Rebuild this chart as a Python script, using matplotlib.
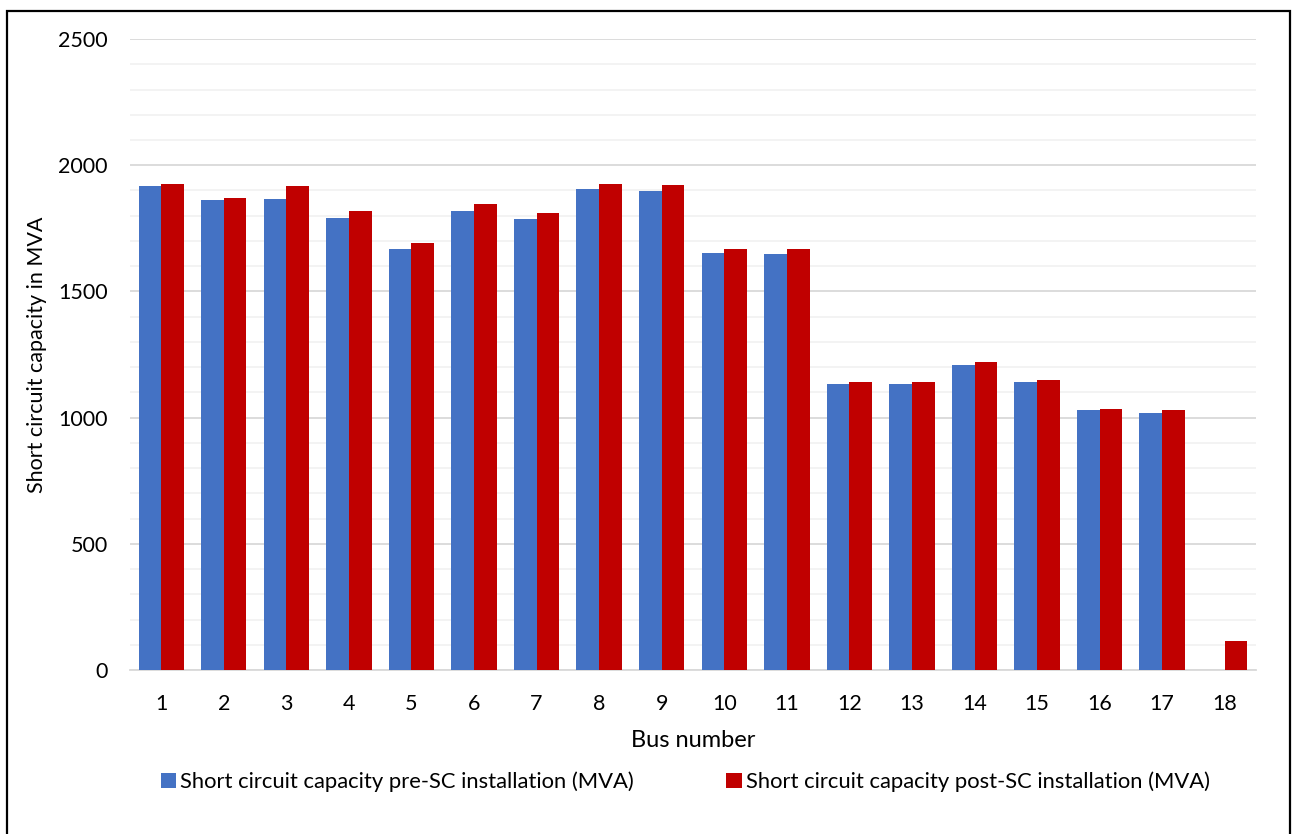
import numpy as np
import matplotlib
matplotlib.use('Agg')
from matplotlib import pyplot as plt
from matplotlib.patches import Rectangle

plt.rcParams['font.family'] = ['Lato', 'DejaVu Sans']

# bus numbers and short circuit capacity (MVA)
buses = [str(i) for i in range(1, 19)]
pre_sc = [1918, 1862, 1867, 1792, 1668, 1820, 1787, 1905, 1899, 1652,
          1650, 1133, 1133, 1208, 1140, 1031, 1019, 0]
post_sc = [1927, 1870, 1916, 1820, 1690, 1845, 1811, 1926, 1920, 1669,
           1668, 1140, 1140, 1219, 1150, 1034, 1031, 116]

pre_label = 'Short circuit capacity pre-SC installation (MVA)'
post_label = 'Short circuit capacity post-SC installation (MVA)'

blue = '#4472C4'
red = '#C00000'

fig = plt.figure(figsize=(12.93, 8.34), dpi=100)
ax = fig.add_axes([0.1005, 0.1966, 0.8709, 0.7566])

x = np.arange(len(buses))
w = 0.363
ax.bar(x - w / 2, pre_sc, w, color=blue, label=pre_label, zorder=3)
ax.bar(x + w / 2, post_sc, w, color=red, label=post_label, zorder=3)

ax.set_xlim(-0.5, len(buses) - 0.5)
ax.set_ylim(0, 2500)
ax.set_yticks(np.arange(0, 2501, 500))
ax.set_yticks(np.arange(0, 2501, 100), minor=True)
ax.grid(axis='y', which='major', color='#D9D9D9', linewidth=1.3, zorder=0)
ax.grid(axis='y', which='minor', color='#F2F2F2', linewidth=1.3, zorder=0)
ax.set_axisbelow(True)

ax.set_xticks(x)
ax.set_xticklabels(buses)
ax.tick_params(axis='both', which='both', length=0, labelsize=15.5, colors='black')
ax.tick_params(axis='x', pad=17)
ax.tick_params(axis='y', pad=16)

for side in ['top', 'right', 'left']:
    ax.spines[side].set_visible(False)
ax.spines['bottom'].set_color('#D9D9D9')
ax.spines['bottom'].set_linewidth(1.3)

ax.set_xlabel('Bus number', fontsize=17)
ax.set_ylabel('Short circuit capacity in MVA', fontsize=15.5)
ax.xaxis.set_label_coords(0.5, -0.111)
ax.yaxis.set_label_coords(-0.0826, 0.5)
ax.xaxis.label.set_va('center')
ax.yaxis.label.set_va('center')

fig.legend(loc='center', bbox_to_anchor=(0.530, 0.0625), ncol=2, frameon=False,
           fontsize=15.8, handlelength=0.7, handleheight=0.7, handletextpad=0.2,
           columnspacing=4.2)

# black frame around the figure
fig.patches.append(Rectangle((0.0054, -0.02), 0.9925, 1.0068, transform=fig.transFigure,
                             fill=False, edgecolor='black', linewidth=1.6))

fig.savefig('out.png', dpi=100)
